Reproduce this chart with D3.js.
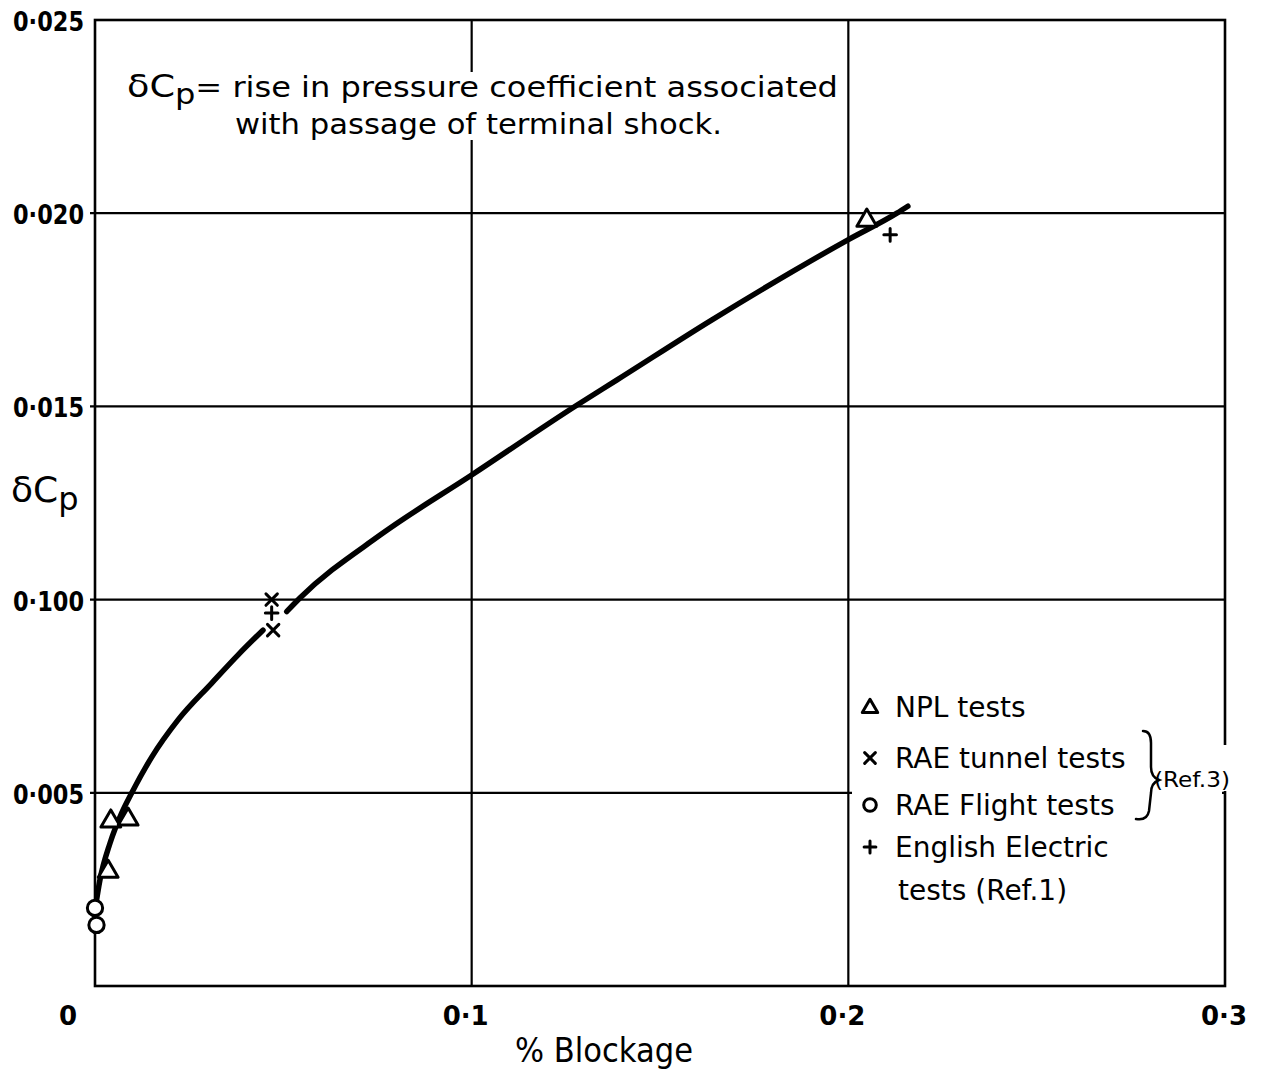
<!DOCTYPE html>
<html>
<head>
<meta charset="utf-8">
<script src="https://cdn.jsdelivr.net/npm/d3@7"></script>
<style>
  body { margin: 0; background: #fff; }
  text { font-family: "DejaVu Sans", sans-serif; fill: #000; }
</style>
</head>
<body>
<div id="chart"></div>
<script>
// ---- data ----
const xTicks = [0, 0.1, 0.2, 0.3];
const xTickLabels = ["0", "0·1", "0·2", "0·3"];
const yTicks = [0.005, 0.010, 0.015, 0.020, 0.025];
const yTickLabels = ["0·005", "0·100", "0·015", "0·020", "0·025"];

// [blockage, dCp]
const nplTests = [[0.0035, 0.0030], [0.0042, 0.0043], [0.0088, 0.00435], [0.2049, 0.01985]];
const raeTunnelTests = [[0.0469, 0.0100], [0.0473, 0.00921]];
const raeFlightTests = [[0.0, 0.00202], [0.0004, 0.00158]];
const englishElectricTests = [[0.0469, 0.00965], [0.2111, 0.01944]];

// faired curve, broken where it passes the RAE tunnel points
const curveLower = [[0.0000, 0.00197], [0.0013, 0.00274], [0.0040, 0.00370], [0.0071, 0.00448],
  [0.0097, 0.00499], [0.0151, 0.00593], [0.0220, 0.00688], [0.0310, 0.00784],
  [0.0380, 0.00857], [0.0446, 0.00921]];
const curveUpper = [[0.0509, 0.00969], [0.0544, 0.01004], [0.0757, 0.01167], [0.1004, 0.01325],
  [0.1279, 0.01503], [0.1385, 0.01568], [0.1638, 0.01724], [0.1999, 0.01931],
  [0.2129, 0.02000], [0.2158, 0.02018]];

const legendLabels = ["NPL tests", "RAE tunnel tests", "RAE Flight tests", "English Electric", "tests (Ref.1)"];
const legendMarkers = ["tri", "cross", "circle", "plus", null];

const canvWidth = 1262, canvHeight = 1077;
const margin = {top: 20, right: 37, bottom: 91, left: 95};
const width = canvWidth - margin.left - margin.right;
const height = canvHeight - margin.top - margin.bottom;

const root = d3.select('#chart')
    .append('svg')
    .attr('width', canvWidth)
    .attr('height', canvHeight);
root.append('rect').attr('width', canvWidth).attr('height', canvHeight).attr('fill', '#fff');

const svg = root.append('g')
    .attr('transform', `translate(${margin.left},${margin.top})`);

const xScale = d3.scaleLinear().domain([0, 0.3]).range([0, width]);
const yScale = d3.scaleLinear().domain([0, 0.025]).range([height, 0]);

// grid lines
svg.append('g')
    .selectAll('line.v')
    .data(xTicks.slice(1, -1))
    .enter()
    .append('line')
    .attr('x1', d => xScale(d)).attr('x2', d => xScale(d))
    .attr('y1', 0).attr('y2', height)
    .attr('stroke', '#000').attr('stroke-width', 2.2);

svg.append('g')
    .selectAll('line.h')
    .data(yTicks.slice(0, -1))
    .enter()
    .append('line')
    .attr('x1', -5).attr('x2', width)
    .attr('y1', d => yScale(d)).attr('y2', d => yScale(d))
    .attr('stroke', '#000').attr('stroke-width', 2.2);

// frame
svg.append('rect')
    .attr('x', 0).attr('y', 0)
    .attr('width', width).attr('height', height)
    .attr('fill', 'none')
    .attr('stroke', '#000')
    .attr('stroke-width', 2.6);

// white backgrounds behind the notes
svg.append('rect')
    .attr('x', 125 - margin.left).attr('y', 72 - margin.top)
    .attr('width', 720).attr('height', 68)
    .attr('fill', '#fff');
svg.append('rect')
    .attr('x', 852 - margin.left).attr('y', 683 - margin.top)
    .attr('width', 370).attr('height', 230)
    .attr('fill', '#fff');
svg.append('rect')
    .attr('x', 1150 - margin.left).attr('y', 745 - margin.top)
    .attr('width', 86).attr('height', 46)
    .attr('fill', '#fff');

// tick labels
svg.append('g')
    .selectAll('text')
    .data(yTicks)
    .enter()
    .append('text')
    .attr('x', -11)
    .attr('y', d => yScale(d) + 11)
    .attr('text-anchor', 'end')
    .attr('font-size', 27)
    .attr('font-weight', 'bold')
    .attr('textLength', 71)
    .attr('lengthAdjust', 'spacingAndGlyphs')
    .text((d, i) => yTickLabels[i]);

svg.append('g')
    .selectAll('text')
    .data(xTicks)
    .enter()
    .append('text')
    .attr('x', (d, i) => xScale(d) + (i === 0 ? -27 : i === 3 ? -1 : -6))
    .attr('y', height + 39)
    .attr('text-anchor', 'middle')
    .attr('font-size', 26)
    .attr('font-weight', 'bold')
    .text((d, i) => xTickLabels[i]);

// axis titles
svg.append('text')
    .attr('x', 604 - margin.left)
    .attr('y', 1062 - margin.top)
    .attr('text-anchor', 'middle')
    .attr('font-size', 33)
    .attr('textLength', 178)
    .attr('lengthAdjust', 'spacingAndGlyphs')
    .text('% Blockage');

const yTitle = svg.append('text')
    .attr('x', 11 - margin.left)
    .attr('y', 502 - margin.top)
    .attr('font-size', 36);
yTitle.append('tspan').text('δC');
yTitle.append('tspan').attr('dy', 8).attr('font-size', 32).text('p');

// note at the top
const note = svg.append('text')
    .attr('x', 127 - margin.left)
    .attr('y', 97 - margin.top)
    .attr('font-size', 28)
    .attr('textLength', 711)
    .attr('lengthAdjust', 'spacingAndGlyphs');
note.append('tspan').attr('font-size', 32).text('δC');
note.append('tspan').attr('dy', 7).attr('font-size', 28).text('p');
note.append('tspan').attr('dy', -7).text('= rise in pressure coefficient associated');

svg.append('text')
    .attr('x', 235 - margin.left)
    .attr('y', 134 - margin.top)
    .attr('font-size', 28)
    .attr('textLength', 487)
    .attr('lengthAdjust', 'spacingAndGlyphs')
    .text('with passage of terminal shock.');

// the faired curve
const line = d3.line()
    .x(d => xScale(d[0]))
    .y(d => yScale(d[1]))
    .curve(d3.curveMonotoneX);

[curveLower, curveUpper].forEach(c => {
    svg.append('path')
        .datum(c)
        .attr('d', line)
        .attr('fill', 'none')
        .attr('stroke', '#000')
        .attr('stroke-width', 5.5)
        .attr('stroke-linecap', 'round');
});

// markers
function marker(g, type, cx, cy, s) {
    if (type === 'tri') {
        g.append('path')
            .attr('d', `M${cx},${cy - s * 0.55} L${cx + s * 0.55},${cy + s * 0.4} L${cx - s * 0.55},${cy + s * 0.4} Z`)
            .attr('fill', '#fff').attr('stroke', '#000').attr('stroke-width', 3)
            .attr('stroke-linejoin', 'round');
    } else if (type === 'circle') {
        g.append('circle')
            .attr('cx', cx).attr('cy', cy).attr('r', s * 0.45)
            .attr('fill', '#fff').attr('stroke', '#000').attr('stroke-width', 3);
    } else if (type === 'cross') {
        const h = s * 0.38;
        g.append('path')
            .attr('d', `M${cx - h},${cy - h} L${cx + h},${cy + h} M${cx + h},${cy - h} L${cx - h},${cy + h}`)
            .attr('stroke', '#000').attr('stroke-width', 3).attr('stroke-linecap', 'round');
    } else if (type === 'plus') {
        const h = s * 0.42;
        g.append('path')
            .attr('d', `M${cx - h},${cy} L${cx + h},${cy} M${cx},${cy - h} L${cx},${cy + h}`)
            .attr('stroke', '#000').attr('stroke-width', 3).attr('stroke-linecap', 'round');
    }
}

const pts = svg.append('g');
raeFlightTests.forEach(d => marker(pts, 'circle', xScale(d[0]), yScale(d[1]), 17));
nplTests.forEach(d => marker(pts, 'tri', xScale(d[0]), yScale(d[1]), 18));
raeTunnelTests.forEach(d => marker(pts, 'cross', xScale(d[0]), yScale(d[1]), 15));
englishElectricTests.forEach(d => marker(pts, 'plus', xScale(d[0]), yScale(d[1]), 15));

// legend
const legend = svg.append('g')
    .attr('transform', `translate(${870 - margin.left},${707 - margin.top})`);

const rowY = [0, 51, 98, 140, 183];
legendLabels.forEach((lab, i) => {
    if (legendMarkers[i]) marker(legend, legendMarkers[i], 0, rowY[i], 14);
    legend.append('text')
        .attr('x', i === 4 ? 28 : 25)
        .attr('y', rowY[i] + 10)
        .attr('font-size', 28)
        .text(lab);
});

// brace grouping the two RAE entries
legend.append('path')
    .attr('d', 'M273,24 Q281,24 281,36 L281,60 Q281,70 289,73 Q281,76 281,86 L279,104 Q277,114 266,112')
    .attr('fill', 'none')
    .attr('stroke', '#000')
    .attr('stroke-width', 2.5)
    .attr('stroke-linecap', 'round');

legend.append('text')
    .attr('x', 284)
    .attr('y', 80)
    .attr('font-size', 22)
    .attr('textLength', 76)
    .attr('lengthAdjust', 'spacingAndGlyphs')
    .text('(Ref.3)');
</script>
</body>
</html>
